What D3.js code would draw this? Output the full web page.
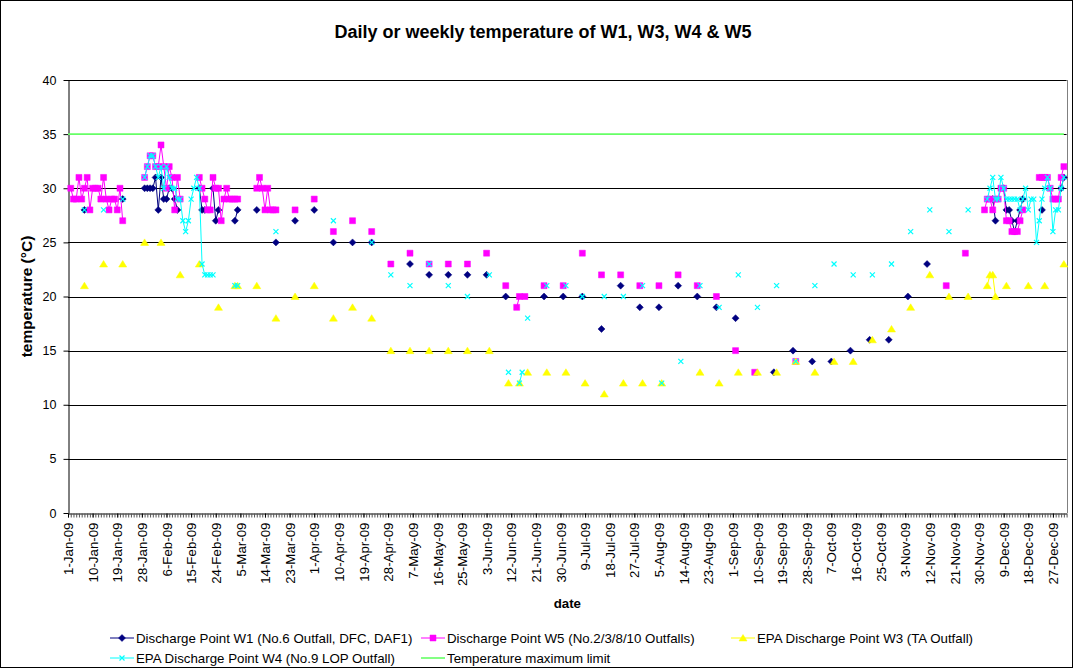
<!DOCTYPE html>
<html>
<head>
<meta charset="utf-8">
<script src="https://cdn.jsdelivr.net/npm/d3@7"></script>
<style>
  body { margin: 0; background: #fff; }
  text { font-family: Arial, "Liberation Sans", sans-serif; }
</style>
</head>
<body>
<div id="chart"></div>
<script>
// ---- data ----
var w1Dates = ["7-Jan","21-Jan","29-Jan","30-Jan","31-Jan","1-Feb","2-Feb","3-Feb","4-Feb","5-Feb","6-Feb","7-Feb","8-Feb","9-Feb","10-Feb",
  "18-Feb","19-Feb","20-Feb","23-Feb","24-Feb","25-Feb","3-Mar","4-Mar","11-Mar","18-Mar","25-Mar","1-Apr","8-Apr","15-Apr","22-Apr",
  "6-May","13-May","20-May","27-May","3-Jun","10-Jun","24-Jun","1-Jul","8-Jul","15-Jul","22-Jul","29-Jul","5-Aug","12-Aug","19-Aug","26-Aug",
  "2-Sep","16-Sep","23-Sep","30-Sep","7-Oct","14-Oct","21-Oct","28-Oct","4-Nov","11-Nov",
  "5-Dec","6-Dec","9-Dec","10-Dec","11-Dec","12-Dec","13-Dec","14-Dec","15-Dec","16-Dec","23-Dec","30-Dec","31-Dec"];
var w1Temps = [28,29,30,30,30,30,31,28,31,29,29,30,30,29,28,
  30,28,28,30,27,28,27,28,28,25,27,28,25,25,25,
  23,22,22,22,22,20,20,20,20,17,21,19,19,21,20,19,
  18,13,15,14,14,15,16,16,20,23,
  29,27,30,28,28,27,26,27,28,29,28,30,31];

var w5Dates = ["2-Jan","3-Jan","4-Jan","5-Jan","6-Jan","7-Jan","8-Jan","9-Jan","10-Jan","11-Jan","12-Jan","13-Jan","14-Jan","15-Jan","16-Jan",
  "17-Jan","18-Jan","19-Jan","20-Jan","21-Jan",
  "29-Jan","30-Jan","31-Jan","1-Feb","2-Feb","3-Feb","4-Feb","5-Feb","6-Feb","7-Feb","8-Feb","9-Feb","10-Feb","11-Feb",
  "18-Feb","19-Feb","20-Feb","21-Feb","22-Feb","23-Feb","24-Feb","25-Feb","26-Feb","27-Feb","28-Feb","1-Mar","2-Mar","3-Mar","4-Mar",
  "11-Mar","12-Mar","13-Mar","14-Mar","15-Mar","16-Mar","17-Mar","18-Mar",
  "25-Mar","1-Apr","8-Apr","15-Apr","22-Apr","29-Apr","6-May","13-May","20-May","27-May","3-Jun","10-Jun","14-Jun","15-Jun","17-Jun",
  "24-Jun","1-Jul","8-Jul","15-Jul","22-Jul","29-Jul","5-Aug","12-Aug","19-Aug","26-Aug","2-Sep","9-Sep","24-Sep","18-Nov","25-Nov",
  "2-Dec","3-Dec","4-Dec","5-Dec","6-Dec","7-Dec","8-Dec","9-Dec","10-Dec","11-Dec","12-Dec","13-Dec","14-Dec","15-Dec","16-Dec",
  "22-Dec","23-Dec","24-Dec","25-Dec","26-Dec","27-Dec","28-Dec","29-Dec","30-Dec","31-Dec"];
var w5Temps = [30,29,29,31,29,30,31,28,30,30,30,29,31,29,28,
  29,29,28,30,27,
  31,32,33,33,32,32,34,32,30,32,31,28,31,29,
  31,30,29,28,28,31,30,30,27,29,30,29,29,29,29,
  30,31,30,28,30,28,28,28,
  28,29,26,27,26,23,24,23,23,23,24,21,19,20,20,
  21,21,24,22,22,21,21,22,21,20,15,13,14,21,24,
  28,29,29,28,29,29,30,30,27,27,26,26,26,27,28,
  31,31,31,31,30,29,29,29,31,32];

var w3Dates = ["7-Jan","14-Jan","21-Jan","29-Jan","4-Feb","11-Feb","18-Feb","25-Feb","3-Mar","4-Mar","11-Mar","18-Mar","25-Mar",
  "1-Apr","8-Apr","15-Apr","22-Apr","29-Apr","6-May","13-May","20-May","27-May","4-Jun","11-Jun","15-Jun","18-Jun","25-Jun",
  "2-Jul","9-Jul","16-Jul","23-Jul","30-Jul","6-Aug","20-Aug","27-Aug","3-Sep","10-Sep","17-Sep","24-Sep","1-Oct","8-Oct",
  "15-Oct","22-Oct","29-Oct","5-Nov","12-Nov","19-Nov","26-Nov","3-Dec","4-Dec","5-Dec","6-Dec","10-Dec","18-Dec","24-Dec","31-Dec"];
var w3Temps = [21,23,23,25,25,22,23,19,21,21,21,18,20,
  21,18,19,18,15,15,15,15,15,15,12,12,13,13,
  13,12,11,12,12,12,13,12,13,13,13,14,13,14,
  14,16,17,19,22,20,20,21,22,22,20,21,21,21,23];

var w4Dates = ["7-Jan","14-Jan","21-Jan",
  "29-Jan","30-Jan","31-Jan","1-Feb","2-Feb","3-Feb","4-Feb","5-Feb","6-Feb","7-Feb","8-Feb","9-Feb","10-Feb","11-Feb",
  "12-Feb","13-Feb","14-Feb","15-Feb","16-Feb","17-Feb","18-Feb","19-Feb","20-Feb","21-Feb","22-Feb","23-Feb",
  "3-Mar","4-Mar","18-Mar","8-Apr","22-Apr","29-Apr","6-May","13-May","20-May","27-May","4-Jun","11-Jun","15-Jun","16-Jun",
  "18-Jun","25-Jun","2-Jul","8-Jul","16-Jul","23-Jul","30-Jul","6-Aug","13-Aug","20-Aug","27-Aug","3-Sep","10-Sep","17-Sep",
  "24-Sep","1-Oct","8-Oct","15-Oct","22-Oct","29-Oct","5-Nov","12-Nov","19-Nov","26-Nov",
  "3-Dec","4-Dec","5-Dec","6-Dec","7-Dec","8-Dec","9-Dec","10-Dec","11-Dec","12-Dec","13-Dec","14-Dec","15-Dec","16-Dec",
  "17-Dec","18-Dec","19-Dec","20-Dec","21-Dec","22-Dec","23-Dec","24-Dec","25-Dec","26-Dec","27-Dec","28-Dec","29-Dec","30-Dec","31-Dec"];
var w4Temps = [28,28,29,
  31,32,33,33,32,31,32,30,32,31,30,30,29,29,
  27,26,27,29,30,31,30,23,22,22,22,22,
  21,21,26,27,25,22,21,23,21,20,22,13,12,13,
  18,21,21,20,20,20,21,12,14,21,19,22,19,21,
  14,21,23,22,22,23,26,28,26,28,
  29,30,31,29,29,31,30,29,29,29,29,29,28,29,
  30,28,29,29,25,27,29,30,31,30,26,28,28,30,31];

var limitDates = ["1-Jan","31-Dec"];
var limitTemps = [35,35];

var xTickLabels = ["1-Jan-09","10-Jan-09","19-Jan-09","28-Jan-09","6-Feb-09","15-Feb-09","24-Feb-09","5-Mar-09","14-Mar-09",
  "23-Mar-09","1-Apr-09","10-Apr-09","19-Apr-09","28-Apr-09","7-May-09","16-May-09","25-May-09","3-Jun-09","12-Jun-09",
  "21-Jun-09","30-Jun-09","9-Jul-09","18-Jul-09","27-Jul-09","5-Aug-09","14-Aug-09","23-Aug-09","1-Sep-09","10-Sep-09",
  "19-Sep-09","28-Sep-09","7-Oct-09","16-Oct-09","25-Oct-09","3-Nov-09","12-Nov-09","21-Nov-09","30-Nov-09","9-Dec-09",
  "18-Dec-09","27-Dec-09"];
var yTicks = [0,5,10,15,20,25,30,35,40];

var legendLabels = ["Discharge Point W1 (No.6 Outfall, DFC, DAF1)", "Discharge Point W5 (No.2/3/8/10 Outfalls)",
  "EPA Discharge Point W3 (TA Outfall)", "EPA Discharge Point W4 (No.9 LOP Outfall)", "Temperature maximum limit"];

// ---- chart ----
var W = 1073, H = 668;
var plot = { left: 68, right: 1066.6, top: 80, bottom: 513 };

var parseDay = d3.timeParse("%d-%b-%y");
function toPoints(dates, temps) {
    var n = Math.min(dates.length, temps.length);
    var pts = [];
    for (var i = 0; i < n; i++) {
        pts.push({ date: parseDay(dates[i] + "-09"), value: temps[i] });
    }
    return pts;
}
// lines only join readings taken on consecutive days
function withGaps(pts) {
    var out = [];
    pts.forEach(function (p, i) {
        if (i > 0 && d3.timeDay.count(pts[i - 1].date, p.date) > 1) out.push(null);
        out.push(p);
    });
    return out;
}

var x = d3.scaleTime()
    .domain([new Date(2009, 0, 1), new Date(2010, 0, 1)])
    .range([plot.left, plot.right]);
var y = d3.scaleLinear().domain([0, 40]).range([plot.bottom, plot.top]);

var svg = d3.select("#chart").append("svg")
    .attr("width", W).attr("height", H);

svg.append("rect")
    .attr("x", 0.5).attr("y", 0.5).attr("width", W - 1).attr("height", H - 1)
    .attr("fill", "#fff").attr("stroke", "#000");

// gridlines
svg.append("g").selectAll("line")
    .data(yTicks.filter(function (d) { return d > 0; }))
    .enter().append("line")
    .attr("x1", plot.left).attr("x2", plot.right)
    .attr("y1", function (d) { return Math.round(y(d)) + 0.5; })
    .attr("y2", function (d) { return Math.round(y(d)) + 0.5; })
    .attr("stroke", "#000").attr("stroke-width", 1);

svg.append("line")
    .attr("x1", Math.round(plot.right) + 0.5).attr("x2", Math.round(plot.right) + 0.5)
    .attr("y1", plot.top).attr("y2", plot.bottom)
    .attr("stroke", "#808080");

// x axis: daily minor ticks + labelled ticks every 9 days
var xTickDates = xTickLabels.map(function (s) { return parseDay(s); });
var gxMinor = svg.append("g")
    .attr("transform", "translate(0," + (Math.round(y(0)) + 0.5) + ")")
    .call(d3.axisBottom(x).ticks(d3.timeDay.every(1)).tickSize(4).tickSizeOuter(0).tickFormat(""));
gxMinor.select(".domain").attr("stroke", "#000");
gxMinor.selectAll(".tick line").attr("stroke", "#555");

var gx = svg.append("g")
    .attr("transform", "translate(0," + (Math.round(y(0)) + 0.5) + ")")
    .call(d3.axisBottom(x).tickValues(xTickDates).tickSize(4)
        .tickFormat(function (d, i) { return xTickLabels[i]; }));
gx.select(".domain").remove();
gx.selectAll(".tick line").attr("stroke", "#000");
gx.selectAll("text")
    .attr("transform", "rotate(-90)")
    .attr("x", -9).attr("y", 0).attr("dy", "0.35em")
    .style("text-anchor", "end")
    .style("font-size", "13.3px")
    .attr("fill", "#000");

// y axis
var gy = svg.append("g")
    .attr("transform", "translate(" + (plot.left + 0.5) + ",0)")
    .call(d3.axisLeft(y).tickValues(yTicks).tickSize(5).tickSizeOuter(0));
gy.select(".domain").attr("stroke", "#000");
gy.selectAll(".tick line").attr("stroke", "#000");
gy.selectAll("text").style("font-size", "12.5px").attr("fill", "#000").attr("x", -12);

// titles
svg.append("text")
    .attr("x", 543).attr("y", 38)
    .attr("text-anchor", "middle")
    .style("font-size", "18px").style("font-weight", "bold")
    .text("Daily or weekly temperature of W1, W3, W4 & W5");
svg.append("text")
    .attr("transform", "translate(32," + ((plot.top + plot.bottom) / 2) + ") rotate(-90)")
    .attr("text-anchor", "middle")
    .style("font-size", "15.5px").style("font-weight", "bold")
    .text("temperature (°C)");
svg.append("text")
    .attr("x", (plot.left + plot.right) / 2).attr("y", 608)
    .attr("text-anchor", "middle")
    .style("font-size", "13.3px").style("font-weight", "bold")
    .text("date");

// series
var markers = {
    diamond: "M0,-3.5L3.5,0L0,3.5L-3.5,0Z",
    square: "M-3,-3H3V3H-3Z",
    triangle: "M0,-3.5L4,3L-4,3Z",
    cross: "M-2.5,-2.5L2.5,2.5M-2.5,2.5L2.5,-2.5"
};
var series = [
    { pts: toPoints(w1Dates, w1Temps), color: "#000080", marker: "diamond" },
    { pts: toPoints(w5Dates, w5Temps), color: "#ff00ff", marker: "square" },
    { pts: toPoints(w3Dates, w3Temps), color: "#ffff00", marker: "triangle" },
    { pts: toPoints(w4Dates, w4Temps), color: "#00ffff", marker: "cross" },
    { pts: toPoints(limitDates, limitTemps), color: "#66ff66", marker: null, width: 1.6 }
];

var line = d3.line()
    .defined(function (d) { return d !== null; })
    .x(function (d) { return x(d.date); })
    .y(function (d) { return y(d.value); });

function drawMarker(sel, m, color) {
    sel.append("path")
        .attr("d", markers[m])
        .attr("fill", m === "cross" ? "none" : color)
        .attr("stroke", color)
        .attr("stroke-width", m === "cross" ? 1.2 : 0.5);
}

series.forEach(function (s) {
    var g = svg.append("g");
    g.append("path")
        .datum(s.marker ? withGaps(s.pts) : s.pts)
        .attr("fill", "none")
        .attr("stroke", s.color)
        .attr("stroke-width", s.width || 1)
        .attr("d", line);
    if (s.marker) {
        var pts = g.selectAll(".pt").data(s.pts).enter().append("g")
            .attr("class", "pt")
            .attr("transform", function (d) { return "translate(" + x(d.date) + "," + y(d.value) + ")"; });
        drawMarker(pts, s.marker, s.color);
    }
});

// legend
var legendPos = [[110, 638], [421, 638], [731, 638], [110, 658], [421, 658]];
legendLabels.forEach(function (label, i) {
    var s = series[i];
    var g = svg.append("g").attr("transform", "translate(" + legendPos[i][0] + "," + legendPos[i][1] + ")");
    g.append("line").attr("x1", 0).attr("x2", 24).attr("y1", 0).attr("y2", 0)
        .attr("stroke", s.color).attr("stroke-width", s.width || 1);
    if (s.marker) {
        var m = g.append("g").attr("transform", "translate(12,0)");
        drawMarker(m, s.marker, s.color);
    }
    g.append("text").attr("x", 26).attr("y", 0).attr("dy", "0.35em")
        .style("font-size", "13.3px").attr("fill", "#000")
        .text(label);
});
</script>
</body>
</html>
